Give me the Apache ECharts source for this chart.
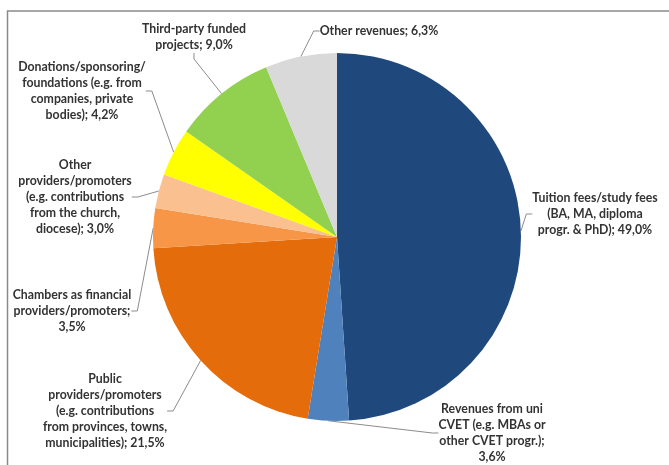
<!DOCTYPE html>
<html>
<head>
<meta charset="utf-8">
<script src="https://cdn.jsdelivr.net/npm/echarts@6/dist/echarts.min.js"></script>
<style>
html,body{margin:0;padding:0;background:#fff;}
#chart{width:669px;height:465px;}
</style>
</head>
<body>
<div id="chart"></div>
<script>
const categories = [
  'Tuition fees/study fees\n(BA, MA, diploma\nprogr. & PhD)',
  'Revenues from uni\nCVET (e.g. MBAs or\nother CVET progr.)',
  'Public\nproviders/promoters\n(e.g. contributions\nfrom provinces, towns,\nmunicipalities)',
  'Chambers as financial\nproviders/promoters',
  'Other\nproviders/promoters\n(e.g. contributions\nfrom the church,\ndiocese)',
  'Donations/sponsoring/\nfoundations (e.g. from\ncompanies, private\nbodies)',
  'Third-party funded\nprojects',
  'Other revenues'
];
const shares = [49.0, 3.6, 21.5, 3.5, 3.0, 4.2, 9.0, 6.3];
const valueOnNewLine = [false, true, false, true, false, false, false, false];

const colors = ['#1F497D', '#4F81BD', '#E46C0A', '#F79646', '#FAC090', '#FFFF00', '#92D050', '#D9D9D9'];
// label block centres (layout only)
const labelCentres = [
  [595, 214], [492, 433], [105, 411], [72, 311],
  [75, 197], [82, 91], [194, 37], [379, 31]
];

const chart = echarts.init(document.getElementById('chart'), null, {renderer: 'canvas'});
const option = {
  backgroundColor: '#ffffff',
  animation: false,
  graphic: [{
    type: 'rect',
    shape: {x: 7.5, y: 11, width: 680, height: 480},
    style: {fill: 'none', stroke: '#8a8a8a', lineWidth: 1.5},
    silent: true,
    z: -1
  }],
  series: [{
    type: 'pie',
    center: [337, 237],
    radius: 184,
    startAngle: 90,
    clockwise: true,
    avoidLabelOverlap: false,
    itemStyle: {borderWidth: 0},
    data: categories.map((c, i) => ({
      name: c,
      value: shares[i],
      itemStyle: {color: colors[i]}
    })),
    label: {
      show: true,
      position: 'outside',
      fontFamily: 'Lato',
      fontWeight: 'bold',
      fontSize: 12.3,
      lineHeight: 16,
      color: '#333333',
      align: 'center',
      formatter: p => {
        const v = p.value.toFixed(1).replace('.', ',') + '%';
        return p.name + ';' + (valueOnNewLine[p.dataIndex] ? '\n' : ' ') + v;
      }
    },
    labelLine: {
      show: true,
      length: 10,
      length2: 6,
      smooth: false,
      lineStyle: {color: '#8c8c8c', width: 1}
    },
    labelLayout: p => ({
      x: labelCentres[p.dataIndex][0],
      y: labelCentres[p.dataIndex][1],
      align: 'center',
      verticalAlign: 'middle'
    })
  }]
};
chart.setOption(option);
</script>
</body>
</html>
